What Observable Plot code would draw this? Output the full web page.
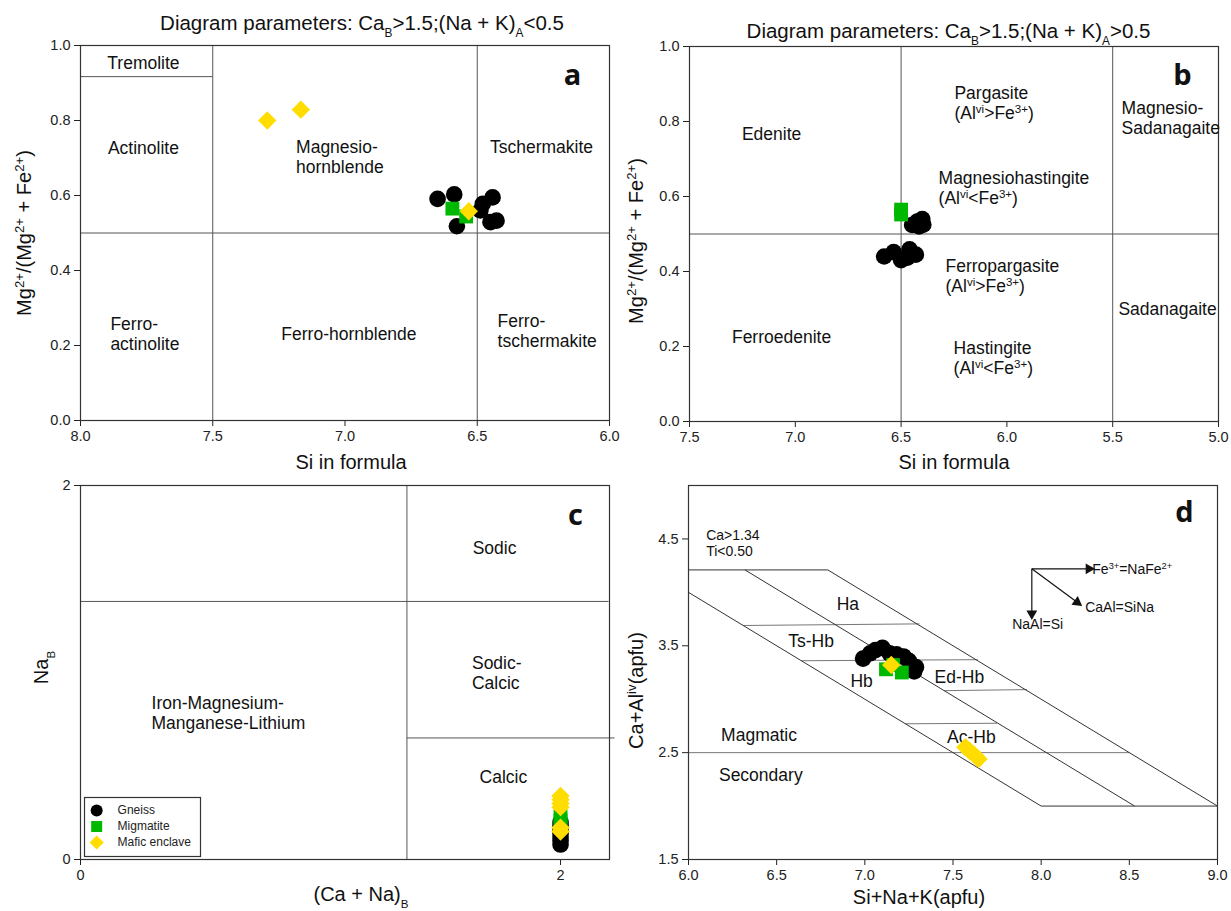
<!DOCTYPE html>
<html><head><meta charset="utf-8">
<script src="https://cdn.jsdelivr.net/npm/d3@7"></script>
<script src="https://cdn.jsdelivr.net/npm/@observablehq/plot@0.6"></script>
<style>
html,body{margin:0;padding:0;background:#fff;}
#wrap{position:relative;width:1231px;height:911px;overflow:hidden;background:#fff;}
.panel{position:absolute;}
.panel svg{overflow:visible;display:block;}
</style></head><body><div id="wrap"></div>
<script>
// ---------- series ----------
const seriesNames = ["Gneiss", "Migmatite", "Mafic enclave"];
const seriesColors = ["#000000", "#00b800", "#ffdd00"];
const seriesSymbols = ["circle", "square", "diamond2"];

// ---------- panel a ----------
const aTitle = "Diagram parameters: Ca_{B}>1.5;(Na + K)_{A}<0.5";
const aXLabel = "Si in formula";
const aYLabel = "Mg^{2+}/(Mg^{2+} + Fe^{2+})";
const aXTicks = [8.0, 7.5, 7.0, 6.5, 6.0];
const aYTicks = [0, 0.2, 0.4, 0.6, 0.8, 1.0];
const aBoundaries = [
  {x1: 7.5, y1: 0, x2: 7.5, y2: 1},
  {x1: 6.5, y1: 0, x2: 6.5, y2: 1},
  {x1: 8.0, y1: 0.5, x2: 6.0, y2: 0.5},
  {x1: 8.0, y1: 0.917, x2: 7.5, y2: 0.917}
];
const aLabelsMid = [
  {x: 7.762, y: 0.955, text: "Tremolite"},
  {x: 7.762, y: 0.728, text: "Actinolite"},
  {x: 6.257, y: 0.729, text: "Tschermakite"},
  {x: 6.985, y: 0.232, text: "Ferro-hornblende"}
];
const aLabelsLeft = [
  {x: 7.185, y: 0.704, text: "Magnesio-\nhornblende"},
  {x: 7.887, y: 0.232, text: "Ferro-\nactinolite"},
  {x: 6.423, y: 0.239, text: "Ferro-\ntschermakite"}
];
const aGneiss = [[6.65,0.591],[6.587,0.603],[6.577,0.518],[6.488,0.56],[6.479,0.578],[6.442,0.595],[6.427,0.533],[6.45,0.529]];
const aMigmatite = [[6.594,0.565],[6.542,0.544]];
const aMafic = [[7.294,0.80],[7.167,0.829],[6.532,0.558]];

// ---------- panel b ----------
const bTitle = "Diagram parameters: Ca_{B}>1.5;(Na + K)_{A}>0.5";
const bXLabel = "Si in formula";
const bYLabel = "Mg^{2+}/(Mg^{2+} + Fe^{2+})";
const bXTicks = [7.5, 7.0, 6.5, 6.0, 5.5, 5.0];
const bYTicks = [0, 0.2, 0.4, 0.6, 0.8, 1.0];
const bBoundaries = [
  {x1: 6.5, y1: 0, x2: 6.5, y2: 1},
  {x1: 5.5, y1: 0, x2: 5.5, y2: 1},
  {x1: 7.5, y1: 0.5, x2: 5.0, y2: 0.5}
];
const bLabelsMid = [
  {x: 7.112, y: 0.767, text: "Edenite"},
  {x: 7.065, y: 0.225, text: "Ferroedenite"}
];
const bLabelsLeft = [
  {x: 6.248, y: 0.85, text: "Pargasite\n(Al^{vi}>Fe^{3+})"},
  {x: 5.458, y: 0.81, text: "Magnesio-\nSadanagaite"},
  {x: 6.323, y: 0.623, text: "Magnesiohastingite\n(Al^{vi}<Fe^{3+})"},
  {x: 6.29, y: 0.389, text: "Ferropargasite\n(Al^{vi}>Fe^{3+})"},
  {x: 5.473, y: 0.302, text: "Sadanagaite"},
  {x: 6.252, y: 0.17, text: "Hastingite\n(Al^{vi}<Fe^{3+})"}
];
const bGneiss = [[6.58,0.44],[6.535,0.452],[6.50,0.43],[6.47,0.437],[6.46,0.459],[6.43,0.445],[6.448,0.524],[6.424,0.533],[6.40,0.54],[6.415,0.52],[6.395,0.525]];
const bMigmatite = [[6.50,0.565],[6.50,0.552]];
const bMafic = [];

// ---------- panel c ----------
const cXLabel = "(Ca + Na)_{B}";
const cYLabel = "Na_{B}";
const cXTicks = [0, 2];
const cYTicks = [0, 2];
const cBoundaries = [
  {x1: 1.36, y1: 0, x2: 1.36, y2: 2},
  {x1: 0, y1: 1.38, x2: 2.2, y2: 1.38},
  {x1: 1.36, y1: 0.65, x2: 2.225, y2: 0.65}
];
const cLabelsMid = [
  {x: 1.725, y: 1.67, text: "Sodic"},
  {x: 1.762, y: 0.444, text: "Calcic"}
];
const cLabelsLeft = [
  {x: 1.631, y: 1.0, text: "Sodic-\nCalcic"},
  {x: 0.296, y: 0.786, text: "Iron-Magnesium-\nManganese-Lithium"}
];
const cGneiss = [[2,0.08],[2,0.10],[2,0.12],[2,0.14],[2,0.16],[2,0.18],[2,0.20]];
const cMigmatite = [[2,0.19],[2,0.21],[2,0.23]];
const cMafic = [[2,0.15],[2,0.17],[2,0.28],[2,0.30],[2,0.32],[2,0.34]];

// ---------- panel d ----------
const dXLabel = "Si+Na+K(apfu)";
const dYLabel = "Ca+Al^{iv}(apfu)";
const dXTicks = [6.0, 6.5, 7.0, 7.5, 8.0, 8.5, 9.0];
const dYTicks = [1.5, 2.5, 3.5, 4.5];
const dDiagonals = [
  {x1: 6.0, y1: 4.21, x2: 6.79, y2: 4.21},
  {x1: 6.79, y1: 4.21, x2: 9.0, y2: 2.0},
  {x1: 6.32, y1: 4.21, x2: 8.53, y2: 2.0},
  {x1: 6.0, y1: 4.0, x2: 8.0, y2: 2.0},
  {x1: 8.0, y1: 2.0, x2: 9.0, y2: 2.0}
];
const dDividers = [
  {x1: 6.0, y1: 2.5, x2: 8.5, y2: 2.5},
  {x1: 6.31, y1: 3.69, x2: 7.31, y2: 3.705},
  {x1: 6.64, y1: 3.36, x2: 7.64, y2: 3.37},
  {x1: 7.45, y1: 3.08, x2: 7.92, y2: 3.09},
  {x1: 7.23, y1: 2.77, x2: 7.75, y2: 2.775}
];
const dLabelsMid = [
  {x: 6.904, y: 3.893, text: "Ha"},
  {x: 6.695, y: 3.55, text: "Ts-Hb"},
  {x: 6.982, y: 3.176, text: "Hb"},
  {x: 7.536, y: 3.213, text: "Ed-Hb"},
  {x: 6.40, y: 2.67, text: "Magmatic"},
  {x: 7.604, y: 2.652, text: "Ac-Hb"},
  {x: 6.41, y: 2.29, text: "Secondary"}
];
const dConditions = [{x: 6.10, y: 4.466, text: "Ca>1.34\nTi<0.50"}];
const dVectorOrigin = {x: 7.947, y: 4.22};
const dVectorRight = {x: 8.27, y: 4.22};
const dVectorDown = {x: 7.947, y: 3.80};
const dVectorDiag = {x: 8.204, y: 3.907};
const dVectorLabelsLeft = [{x: 8.29, y: 4.22, text: "Fe^{3+}=NaFe^{2+}"}];
const dVectorLabelsMid = [
  {x: 7.98, y: 3.70, text: "NaAl=Si"},
  {x: 8.445, y: 3.86, text: "CaAl=SiNa"}
];
const dGneiss = [[6.99,3.38],[7.03,3.43],[7.06,3.46],[7.10,3.48],[7.14,3.43],[7.18,3.42],[7.22,3.40],[7.25,3.36],[7.29,3.30],[7.28,3.26]];
const dMigmatite = [[7.12,3.28],[7.16,3.32],[7.21,3.25]];
const dMafic = [[7.15,3.32],[7.57,2.55],[7.595,2.515],[7.62,2.48],[7.645,2.44]];

// ---------- rendering ----------
const FONT = '"Liberation Sans", Arial, Helvetica, sans-serif';
const wrap = document.getElementById("wrap");
const NS = "http://www.w3.org/2000/svg";

function richify(svg) {
  svg.querySelectorAll("text, tspan").forEach(el => {
    if (el.children.length) return;
    const s = el.textContent;
    if (!/[_^]\{/.test(s)) return;
    el.textContent = "";
    const re = /([_^])\{([^}]*)\}/g;
    let last = 0, m;
    while ((m = re.exec(s))) {
      if (m.index > last) el.appendChild(document.createTextNode(s.slice(last, m.index)));
      const t = document.createElementNS(NS, "tspan");
      const sub = m[1] === "_";
      t.setAttribute("font-size", sub ? "58%" : "66%");
      t.setAttribute("baseline-shift", sub ? "sub" : "super");
      t.textContent = m[2];
      el.appendChild(t);
      last = re.lastIndex;
    }
    if (last < s.length) el.appendChild(document.createTextNode(s.slice(last)));
  });
}

function place(svg, left, top, width) {
  const d = document.createElement("div");
  d.className = "panel";
  d.style.left = left + "px";
  d.style.top = top + "px";
  d.style.width = width + "px";
  d.appendChild(svg);
  wrap.appendChild(d);
  richify(svg);
}

const baseStyle = () => ({fontFamily: FONT, fontSize: "14px", color: "#222", background: "transparent", overflow: "visible"});
const radii = [8.3, 7.8, 8.3];
const LBL = 17.5, AX = 20, TTL = 20.5, TICK = 14.5;

function axes(xTicks, yTicks, fmt) {
  return [
    Plot.axisX({ticks: xTicks, tickFormat: fmt, tickSize: 6, tickPadding: 4, fontSize: TICK, label: null, anchor: "bottom"}),
    Plot.axisY({ticks: yTicks, tickFormat: fmt, tickSize: 6, tickPadding: 4, fontSize: TICK, label: null, anchor: "left"})
  ];
}
function seriesMarks(sets) {
  return sets.map((pts, i) => Plot.dot(pts, {
    x: d => d[0], y: d => d[1], symbol: seriesSymbols[i], fill: seriesColors[i], stroke: "none", r: radii[i]
  }));
}
function lines(data, stroke, w) {
  return Plot.link(data, {x1: "x1", y1: "y1", x2: "x2", y2: "y2", stroke, strokeWidth: w});
}
function labels(data, anchor, size) {
  return Plot.text(data, {x: "x", y: "y", text: "text", textAnchor: anchor, lineAnchor: "middle", fontSize: size, lineHeight: 1.13, fill: "#111"});
}
function frameText(str, opts) {
  return Plot.text([str], {text: d => d, lineAnchor: "middle", textAnchor: "middle", fill: "#111", ...opts});
}
function letter(str, dx, dy) {
  return frameText(str, {frameAnchor: "top-right", dx, dy, fontSize: 29, fontWeight: "bold", fontFamily: '"Open Sans", "DejaVu Sans", sans-serif'});
}
const f1 = d3.format(".1f");
const f0 = d => String(d);

// Panel a
const A = Plot.plot({
  width: 615, height: 470, marginLeft: 80, marginRight: 6, marginTop: 45, marginBottom: 50,
  style: baseStyle(),
  x: {domain: [8, 6]},
  y: {domain: [0, 1]},
  marks: [
    ...axes(aXTicks, aYTicks, f1),
    lines(aBoundaries, "#555", 1),
    Plot.frame({stroke: "#333", strokeWidth: 1.2}),
    labels(aLabelsMid, "middle", LBL),
    labels(aLabelsLeft, "start", LBL),
    ...seriesMarks([aGneiss, aMigmatite, aMafic]),
    frameText(aTitle, {frameAnchor: "top", dx: 17, dy: -22, fontSize: TTL}),
    frameText(aXLabel, {frameAnchor: "bottom", dx: 6, dy: 42, fontSize: AX}),
    frameText(aYLabel, {frameAnchor: "left", dx: -56, rotate: -90, fontSize: AX}),
    letter("a", -37, 30)
  ]
});
place(A, 0, 0, 615);

// Panel b
const B = Plot.plot({
  width: 616, height: 470, marginLeft: 74, marginRight: 13, marginTop: 46, marginBottom: 49,
  style: baseStyle(),
  x: {domain: [7.5, 5.0]},
  y: {domain: [0, 1]},
  marks: [
    ...axes(bXTicks, bYTicks, f1),
    lines(bBoundaries, "#555", 1),
    Plot.frame({stroke: "#333", strokeWidth: 1.2}),
    labels(bLabelsMid, "middle", LBL),
    labels(bLabelsLeft, "start", LBL),
    ...seriesMarks([bGneiss, bMigmatite, bMafic]),
    frameText(bTitle, {frameAnchor: "top", dx: -5.5, dy: -15, fontSize: TTL}),
    frameText(bXLabel, {frameAnchor: "bottom", dx: 0, dy: 41, fontSize: AX}),
    frameText(bYLabel, {frameAnchor: "left", dx: -53, dy: 7, rotate: -90, fontSize: AX}),
    letter("b", -36, 29)
  ]
});
place(B, 615, 0, 616);

// Panel c
const C = Plot.plot({
  width: 615, height: 441, marginLeft: 80, marginRight: 6, marginTop: 15, marginBottom: 52,
  style: baseStyle(),
  x: {domain: [0, 2.204]},
  y: {domain: [0, 2]},
  marks: [
    ...axes(cXTicks, cYTicks, f0),
    lines(cBoundaries, "#555", 1),
    Plot.frame({stroke: "#333", strokeWidth: 1.2}),
    labels(cLabelsMid, "middle", LBL),
    labels(cLabelsLeft, "start", LBL),
    ...seriesMarks([cGneiss, cMigmatite, cMafic]),
    frameText(cXLabel, {frameAnchor: "bottom", dx: 16, dy: 35, fontSize: AX}),
    frameText(cYLabel, {frameAnchor: "left", dx: -38.5, dy: -5, rotate: -90, fontSize: AX}),
    letter("c", -34, 30)
  ]
});
place(C, 0, 470, 615);

// Legend (panel c)
const L = Plot.plot({
  width: 116, height: 59, margin: 0,
  style: baseStyle(),
  x: {domain: [0, 1], range: [0, 116], axis: null},
  y: {type: "point", domain: seriesNames, range: [12.5, 45], padding: 0, axis: null},
  marks: [
    Plot.frame({stroke: "#333", strokeWidth: 1.2}),
    ...seriesNames.map((n, i) => Plot.dot([n], {x: () => 0.105, y: d => d, symbol: seriesSymbols[i], fill: seriesColors[i], r: [6, 6.2, 6.4][i]})),
    Plot.text(seriesNames, {x: () => 0.285, y: d => d, text: d => d, textAnchor: "start", fontSize: 12, fill: "#222"})
  ]
});
place(L, 84, 797, 116);

// Panel d
const D = Plot.plot({
  width: 616, height: 441, marginLeft: 73, marginRight: 14, marginTop: 15, marginBottom: 52,
  style: baseStyle(),
  x: {domain: [6, 9]},
  y: {domain: [1.5, 5.0]},
  marks: [
    ...axes(dXTicks, dYTicks, f1),
    lines(dDividers, "#777", 1),
    lines(dDiagonals, "#333", 1),
    Plot.frame({stroke: "#333", strokeWidth: 1.2}),
    labels(dLabelsMid, "middle", LBL),
    labels(dConditions, "start", 14),
    Plot.link([dVectorRight, dVectorDown, dVectorDiag], {x1: () => dVectorOrigin.x, y1: () => dVectorOrigin.y, x2: "x", y2: "y", stroke: "#111", strokeWidth: 1.2}),
    Plot.dot([dVectorRight], {x: "x", y: "y", symbol: "triangle", fill: "#111", r: 4, rotate: 90}),
    Plot.dot([dVectorDown], {x: "x", y: "y", symbol: "triangle", fill: "#111", r: 4, rotate: 180}),
    Plot.dot([dVectorDiag], {x: "x", y: "y", symbol: "triangle", fill: "#111", r: 4, rotate: 126}),
    labels(dVectorLabelsLeft, "start", 14),
    labels(dVectorLabelsMid, "middle", 14),
    ...seriesMarks([dGneiss, dMigmatite, dMafic]),
    frameText(dXLabel, {frameAnchor: "bottom", dx: -34, dy: 38, fontSize: AX}),
    frameText(dYLabel, {frameAnchor: "left", dx: -52, dy: 18, rotate: -90, fontSize: AX}),
    letter("d", -33, 27)
  ]
});
place(D, 615, 470, 616);
</script>
</body></html>
